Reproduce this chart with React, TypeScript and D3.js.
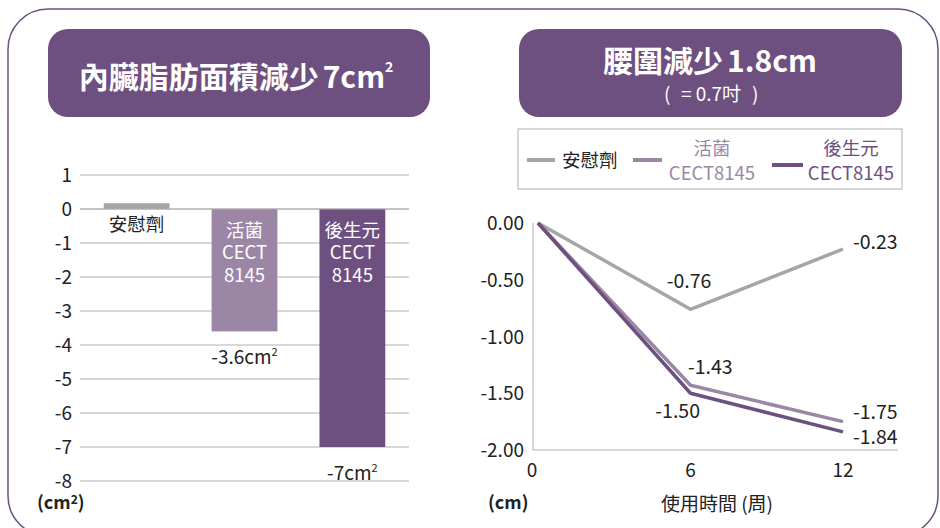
import * as d3 from "d3";
import React from "react";

// 內臟脂肪面積 (cm²)
const barGroups = ["安慰劑", "活菌 CECT8145", "後生元 CECT8145"];
const barValues = [0.17, -3.6, -7];
const barValueLabels = ["", "-3.6cm", "-7cm"];
const barTicks = [1, 0, -1, -2, -3, -4, -5, -6, -7, -8];

// 腰圍 (cm)
const weeks = [0, 6, 12];
const placebo = [0, -0.76, -0.23];
const liveCect = [0, -1.43, -1.75];
const postCect = [0, -1.5, -1.84];
const lineTicks = [0, -0.5, -1, -1.5, -2];

const DARK = "#6e5080";
const LIGHT = "#9b87a5";
const GRAY = "#a6a6a6";
const FONT = "'Noto Sans CJK TC', 'Noto Sans', sans-serif";

export default function App() {
  const width = 940;
  const height = 528;

  // bar chart
  const bx = d3.scaleBand().domain(barGroups).range([80, 409]).paddingInner(0.39).paddingOuter(0.22);
  const by = d3.scaleLinear().domain([-8, 1]).range([481, 175]);

  // line chart
  const lx = d3.scaleLinear().domain([0, 12]).range([538, 843]);
  const ly = d3.scaleLinear().domain([-2, 0]).range([450, 223]);
  const line = d3
    .line<number>()
    .x((_, i) => lx(weeks[i]))
    .y((d) => ly(d));

  const series = [
    { name: "placebo", values: placebo, color: GRAY },
    { name: "live", values: liveCect, color: LIGHT },
    { name: "post", values: postCect, color: DARK },
  ];

  const barColors = [GRAY, LIGHT, DARK];

  return (
    <svg width={width} height={height} style={{ position: "absolute", left: 0, top: 0, fontFamily: FONT }}>
      <rect x={0} y={0} width={width} height={height} fill="#fff" />
      <rect x={8} y={9} width={930} height={527} rx={40} ry={40} fill="none" stroke={DARK} strokeWidth={1.5} />

      {/* titles */}
      <rect x={48} y={29} width={382} height={88} rx={20} fill={DARK} />
      <text x={236} y={88} textAnchor="middle" fill="#fff" fontSize={30} fontWeight={700}>
        內臟脂肪面積減少<tspan dx={4}>7cm</tspan>
        <tspan fontSize={14} dy={-16}>2</tspan>
      </text>
      <rect x={519} y={29} width={383} height={88} rx={20} fill={DARK} />
      <text x={710} y={72} textAnchor="middle" fill="#fff" fontSize={30} fontWeight={700}>
        腰圍減少<tspan dx={4}>1.8cm</tspan>
      </text>
      <text y={101} fill="#fff" fontSize={19}>
        <tspan x={664}>(</tspan>
        <tspan x={711} textAnchor="middle">= 0.7吋</tspan>
        <tspan x={752}>)</tspan>
      </text>

      {/* bar chart */}
      {barTicks.map((t) => (
        <g key={t}>
          <line x1={80} x2={409} y1={by(t)} y2={by(t)} stroke="#b0b0b0" strokeWidth={1} />
          <text x={72} y={by(t) + 7} textAnchor="end" fontSize={19} fill="#222">
            {t}
          </text>
        </g>
      ))}
      {barValues.map((v, i) => (
        <rect
          key={i}
          x={bx(barGroups[i])}
          width={bx.bandwidth()}
          y={by(Math.max(0, v))}
          height={Math.abs(by(v) - by(0))}
          fill={barColors[i]}
        />
      ))}
      <line x1={80} x2={409} y1={by(0)} y2={by(0)} stroke="#b0b0b0" strokeWidth={1} />
      <text x={bx(barGroups[0])! + bx.bandwidth() / 2} y={231} textAnchor="middle" fontSize={18.5} fill="#222">
        安慰劑
      </text>
      {[1, 2].map((i) => {
        const cx = bx(barGroups[i])! + bx.bandwidth() / 2;
        const [a, b] = barGroups[i].split(" ");
        return (
          <text key={i} x={cx} textAnchor="middle" fontSize={18.5} fill="#fff">
            <tspan x={cx} y={237}>{a}</tspan>
            <tspan x={cx} y={259}>{b.slice(0, 4)}</tspan>
            <tspan x={cx} y={282}>{b.slice(4)}</tspan>
          </text>
        );
      })}
      {[1, 2].map((i) => (
        <text key={i} x={bx(barGroups[i])! + bx.bandwidth() / 2} y={by(barValues[i]) + 33} textAnchor="middle" fontSize={19} fill="#222">
          {barValueLabels[i]}
          <tspan fontSize={11} dy={-8}>2</tspan>
        </text>
      ))}
      <text x={37} y={509} fontSize={18} fontWeight={700} fill="#222">
        (cm<tspan fontSize={12} dy={-5}>2</tspan><tspan dy={5}>)</tspan>
      </text>

      {/* legend */}
      <rect x={518} y={129} width={384} height={60} fill="#fff" stroke="#b0b0b0" strokeWidth={1} />
      <line x1={527} x2={555} y1={160} y2={160} stroke={GRAY} strokeWidth={4} />
      <text x={562} y={167} fontSize={18.5} fill="#222">安慰劑</text>
      <line x1={633} x2={662} y1={160} y2={160} stroke={LIGHT} strokeWidth={4} />
      <text textAnchor="middle" fontSize={18.5} fill={LIGHT}>
        <tspan x={712} y={155}>活菌</tspan>
        <tspan x={712} y={180}>CECT8145</tspan>
      </text>
      <line x1={772} x2={803} y1={165} y2={165} stroke={DARK} strokeWidth={4} />
      <text textAnchor="middle" fontSize={18.5} fill={DARK}>
        <tspan x={851} y={155}>後生元</tspan>
        <tspan x={851} y={180}>CECT8145</tspan>
      </text>

      {/* line chart */}
      <line x1={533} x2={533} y1={223} y2={450} stroke="#b0b0b0" strokeWidth={1} />
      <line x1={533} x2={898} y1={450} y2={450} stroke="#b0b0b0" strokeWidth={1} />
      {lineTicks.map((t) => (
        <text key={t} x={524} y={ly(t) + 7} textAnchor="end" fontSize={19} fill="#222">
          {t.toFixed(2)}
        </text>
      ))}
      {weeks.map((w) => (
        <text key={w} x={w === 0 ? 532 : lx(w)} y={477} textAnchor="middle" fontSize={19} fill="#222">
          {w}
        </text>
      ))}
      {series.map((s) => (
        <path key={s.name} d={line(s.values)!} fill="none" stroke={s.color} strokeWidth={3.5} strokeLinejoin="round" />
      ))}
      <text x={689} y={288} textAnchor="middle" fontSize={19.5} fill="#222">{placebo[1].toFixed(2)}</text>
      <text x={688} y={374} fontSize={19.5} fill="#222">{liveCect[1].toFixed(2)}</text>
      <text x={700} y={418} textAnchor="end" fontSize={19.5} fill="#222">{postCect[1].toFixed(2)}</text>
      <text x={853} y={249} fontSize={19.5} fill="#222">{placebo[2].toFixed(2)}</text>
      <text x={853} y={419} fontSize={19.5} fill="#222">{liveCect[2].toFixed(2)}</text>
      <text x={853} y={444} fontSize={19.5} fill="#222">{postCect[2].toFixed(2)}</text>
      <text x={488} y={509} fontSize={18} fontWeight={700} fill="#222">(cm)</text>
      <text x={717} y={511} textAnchor="middle" fontSize={19} fill="#222">使用時間 (周)</text>
    </svg>
  );
}
